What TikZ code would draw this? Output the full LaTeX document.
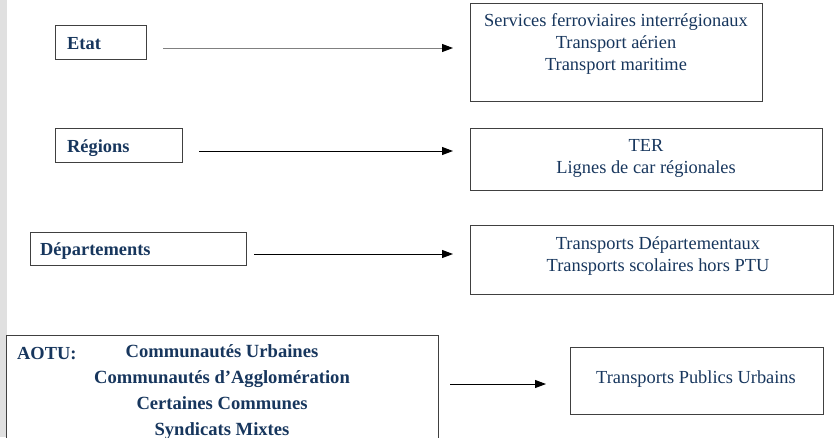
\documentclass[tikz,border=0pt]{standalone}
\usepackage{fontspec}
\setmainfont{Liberation Serif}
\usetikzlibrary{arrows.meta}
\definecolor{txt}{RGB}{23,54,93}
\definecolor{strip}{RGB}{224,224,224}
\definecolor{edge}{RGB}{64,64,64}
\begin{document}
\begin{tikzpicture}[x=1pt,y=-1pt,
  box/.style={draw=edge,line width=1pt,inner sep=0pt},
  lbl/.style={text=txt,font=\fontsize{18.4}{22}\selectfont\bfseries,anchor=west,inner sep=0pt},
  svc/.style={text=txt,font=\fontsize{18.4}{22}\selectfont,align=center,inner sep=0pt},
  arr/.style={line width=1pt,-{Triangle[length=11pt,width=8pt,black]}}]
\useasboundingbox (0,0) rectangle (834,437);
\clip (0,0) rectangle (834,437);
\fill[strip] (0,0) rectangle (7,437);
% left boxes
\draw[box] (55,25) rectangle (146,59);
\node[lbl] (etat) at (67,44) {Etat};
\draw[box] (55,128) rectangle (182,162);
\node[lbl] (reg) at (67,148) {Régions};
\draw[box] (30,232) rectangle (246,265);
\node[lbl] (dep) at (40,251) {Départements};
\draw[box] (6,335) rectangle (438,445);
\node[lbl] (aotu) at (17,354) {AOTU:};
\node[text=txt,font=\fontsize{18.6}{26}\selectfont\bfseries,align=center,anchor=north,inner sep=0pt] (aotutxt) at (222,344)
  {Communautés Urbaines\\Communautés d’Agglomération\\Certaines Communes\\Syndicats Mixtes};
% right boxes
\draw[box] (470,3) rectangle (762,101);
\node[svc,anchor=north] (s1) at (616,13) {Services ferroviaires interrégionaux\\Transport aérien\\Transport maritime};
\draw[box] (470,128) rectangle (822,190);
\node[svc,anchor=north] (s2) at (646,139) {TER\\Lignes de car régionales};
\draw[box] (470,225) rectangle (833,294);
\node[svc,anchor=north] (s3) at (658,236) {Transports Départementaux\\Transports scolaires hors PTU};
\draw[box] (570,347) rectangle (823,414);
\node[svc] (s4) at (696,379) {Transports Publics Urbains};
% arrows
\coordinate (a1s) at (163,48); \coordinate (a1e) at (453,48);
\draw[arr,draw=gray] (a1s) -- (a1e);
\coordinate (a2s) at (199,151); \coordinate (a2e) at (453,151);
\draw[arr] (a2s) -- (a2e);
\coordinate (a3s) at (254,254); \coordinate (a3e) at (453,254);
\draw[arr] (a3s) -- (a3e);
\coordinate (a4s) at (450,384); \coordinate (a4e) at (546,384);
\draw[arr] (a4s) -- (a4e);
\end{tikzpicture}
\end{document}
